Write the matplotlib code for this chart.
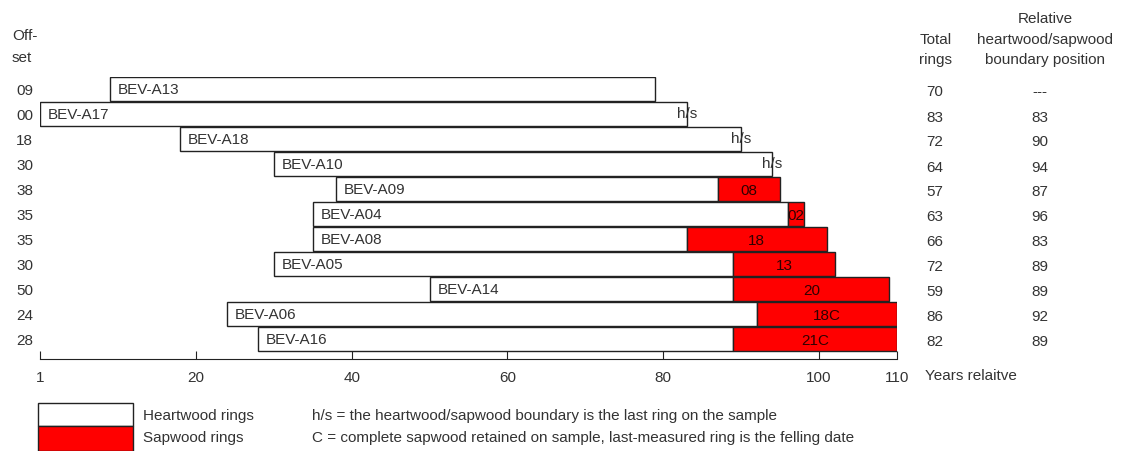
import matplotlib.pyplot as plt
from matplotlib.patches import Rectangle

plt.rcParams['font.family'] = ['Liberation Sans', 'DejaVu Sans']

# sample data, top to bottom
names = ['BEV-A13', 'BEV-A17', 'BEV-A18', 'BEV-A10', 'BEV-A09', 'BEV-A04',
         'BEV-A08', 'BEV-A05', 'BEV-A14', 'BEV-A06', 'BEV-A16']
offsets = [9, 0, 18, 30, 38, 35, 35, 30, 50, 24, 28]
total_rings = [70, 83, 72, 64, 57, 63, 66, 72, 59, 86, 82]
hs_boundary = [None, 83, 90, 94, 87, 96, 83, 89, 89, 92, 89]
sap_labels = ['', 'h/s', 'h/s', 'h/s', '08', '02', '18', '13', '20', '18C', '21C']

tick_pos = [0, 20, 40, 60, 80, 100, 110]
tick_labels = ['1', '20', '40', '60', '80', '100', '110']

txt = '#333333'
fs = 11

fig = plt.figure(figsize=(11.24, 4.52), dpi=100)
ax = fig.add_axes([40 / 1124, 1 - 360 / 452, 857 / 1124, 282.5 / 452])

rows = list(range(len(names)))
for i, name in enumerate(names):
    start = offsets[i]
    end = offsets[i] + total_rings[i]
    b = hs_boundary[i] if hs_boundary[i] is not None else end
    ax.barh(i, b - start, left=start, height=0.96, color='white',
            edgecolor='#222222', linewidth=1)
    if end > b:
        ax.barh(i, end - b, left=b, height=0.96, color='#ff0000',
                edgecolor='#222222', linewidth=1)
        ax.text((b + end) / 2, i + 0.05, sap_labels[i], ha='center', va='center',
                fontsize=fs, color='#300000')
    elif sap_labels[i]:
        ax.text(end, i - 0.05, sap_labels[i], ha='center', va='center',
                fontsize=fs, color=txt)
    ax.text(start + 1, i, name, ha='left', va='center', fontsize=fs, color=txt)

ax.set_xlim(0, 110)
ax.set_ylim(10.8, -0.5)
ax.set_yticks([])
for s in ['top', 'right', 'left']:
    ax.spines[s].set_visible(False)
ax.spines['bottom'].set_color('#222222')
ax.set_xticks(tick_pos)
ax.set_xticklabels(tick_labels, fontsize=fs, color=txt)
ax.tick_params(axis='x', direction='in', length=6, color='#222222', pad=8)
ax.text(1.033, -0.055, 'Years relaitve', transform=ax.transAxes, ha='left',
        va='center', fontsize=fs, color=txt)

# left column: offsets
fig.text(12 / 1124, 1 - 36 / 452, 'Off-', fontsize=fs, color=txt, va='center')
fig.text(12 / 1124, 1 - 58 / 452, 'set', fontsize=fs, color=txt, va='center')
for i in rows:
    ax.text(-0.9, i + 0.05, f'{offsets[i]:02d}', ha='right', va='center',
            fontsize=fs, color=txt, clip_on=False)

# right columns
fig.text(936 / 1124, 1 - 40 / 452, 'Total', ha='center', va='center', fontsize=fs, color=txt)
fig.text(936 / 1124, 1 - 60 / 452, 'rings', ha='center', va='center', fontsize=fs, color=txt)
fig.text(1045 / 1124, 1 - 19 / 452, 'Relative', ha='center', va='center', fontsize=fs, color=txt)
fig.text(1045 / 1124, 1 - 40 / 452, 'heartwood/sapwood', ha='center', va='center', fontsize=fs, color=txt)
fig.text(1045 / 1124, 1 - 60 / 452, 'boundary position', ha='center', va='center', fontsize=fs, color=txt)
for i in rows:
    ax.text(114.9, i + 0.1, str(total_rings[i]), ha='center', va='center',
            fontsize=fs, color=txt, clip_on=False)
    hb = hs_boundary[i]
    ax.text(128.3, i + 0.1, '---' if hb is None else str(hb), ha='center',
            va='center', fontsize=fs, color=txt, clip_on=False)

# legend
fig.patches.append(Rectangle((38 / 1124, 1 - 427 / 452), 95 / 1124, 23 / 452,
                             transform=fig.transFigure, facecolor='white',
                             edgecolor='#222222', linewidth=1))
fig.patches.append(Rectangle((38 / 1124, 1 - 452 / 452), 95 / 1124, 25 / 452,
                             transform=fig.transFigure, facecolor='#ff0000',
                             edgecolor='#222222', linewidth=1))
fig.text(143 / 1124, 1 - 416 / 452, 'Heartwood rings', va='center', fontsize=fs, color=txt)
fig.text(143 / 1124, 1 - 438 / 452, 'Sapwood rings', va='center', fontsize=fs, color=txt)
fig.text(312 / 1124, 1 - 416 / 452,
         'h/s = the heartwood/sapwood boundary is the last ring on the sample',
         va='center', fontsize=fs, color=txt)
fig.text(312 / 1124, 1 - 438 / 452,
         'C = complete sapwood retained on sample, last-measured ring is the felling date',
         va='center', fontsize=fs, color=txt)

fig.savefig('out.png', dpi=100)
